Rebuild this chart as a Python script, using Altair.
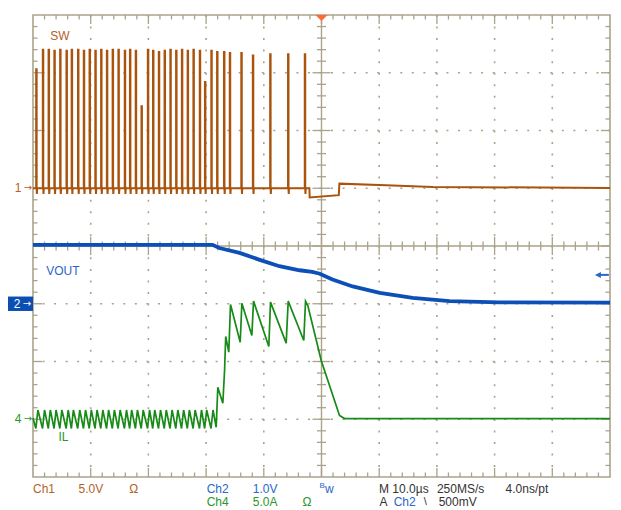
import altair as alt
import pandas as pd
import numpy as np

# ---------------- data (time in µs, 10 µs/div; vertical in divisions, centre = 0) -------------
CH1_GND, CH2_GND, CH4_GND = 1.0, -1.0, -3.0      # ground markers (div)
CH1_VDIV, CH2_VDIV, CH4_ADIV = 5.0, 1.0, 5.0     # V/div, V/div, A/div

# SW (Ch1) switching pulses: times (µs) and peak voltages (V)
sw_pulse_t = [-49.45, -48.3, -47.3, -46.3, -45.3, -44.2, -43.3, -42.2, -41.2, -40.2,
              -39.2, -38.2, -37.2, -36.2, -35.2, -34.1, -33.2, -32.2, -31.2, -30.1,
              -29.2, -28.2, -27.2, -26.2, -25.2, -24.2, -23.2, -22.2, -21.1, -20.2,
              -19.1, -18.1, -16.9, -15.9, -13.9, -11.9, -8.9, -5.8, -2.9]
sw_pulse_v = [10.3, 12.0, 12.0, 11.9, 12.0, 11.9, 12.0, 12.0, 11.9, 12.0,
              11.9, 12.0, 11.9, 12.0, 12.0, 11.9, 12.0, 11.9, 7.1, 12.0,
              11.9, 11.8, 11.9, 12.0, 11.9, 12.0, 11.9, 12.0, 11.9, 9.2,
              11.9, 11.8, 11.8, 11.7, 11.7, 11.5, 11.6, 11.6, 11.6]
sw_tail_t = [-2.1, -2.05, 3.0, 3.1, 11.2, 19.3, 50.0]
sw_tail_v = [0.0, -0.8, -0.6, 0.4, 0.26, 0.11, 0.03]

# VOUT (Ch2)
vout_t = [-50, -18.9, -17.7, -14.2, -10.7, -7.3, -3.8, -1.6, -0.3, 1.9, 5.4, 10.1, 15.8, 22.2, 30.8, 50]
vout_v = [1.02, 1.02, 0.965, 0.88, 0.76, 0.65, 0.58, 0.55, 0.52, 0.42, 0.30, 0.19, 0.10, 0.045, 0.025, 0.02]

# IL (Ch4): ripple levels before the load step, then read vertices
il_ripple_lo, il_ripple_hi = -0.8, 0.8
il_t = [-18.25, -17.97, -17.1, -16.8, -16.6, -16.07, -15.77, -14.09, -13.8, -12.07, -11.78,
        -9.13, -8.84, -6.12, -5.77, -3.07, -2.77, -2.37, -0.05, 3.12, 4.0, 50.0]
il_a = [-0.7, 2.77, 1.39, 4.22, 7.17, 5.81, 9.94, 6.67, 10.05, 7.25, 10.23,
        6.30, 10.14, 6.59, 10.23, 6.82, 10.23, 9.85, 5.09, 0.32, 0.06, 0.06]

# --------------- build traces ---------------
sw_rows = [(-50.0, 0.0)]
for t, v in zip(sw_pulse_t, sw_pulse_v):
    sw_rows += [(t, 0.0), (t, v), (t + 0.08, v), (t + 0.08, 0.0), (t + 0.12, -0.5), (t + 0.17, 0.0)]
sw_rows += list(zip(sw_tail_t, sw_tail_v))
sw = pd.DataFrame(sw_rows, columns=["t", "v"])
sw["y"] = CH1_GND + sw["v"] / CH1_VDIV
sw["i"] = range(len(sw))

vout = pd.DataFrame({"t": vout_t, "v": vout_v})
vout["y"] = CH2_GND + vout["v"] / CH2_VDIV
vout["i"] = range(len(vout))

il_rows = [(-50.0, 0.1)]
for t in sw_pulse_t:
    if t < -18.5:
        il_rows += [(t - 0.05, il_ripple_lo), (t + 0.3, il_ripple_hi)]
il_rows += list(zip(il_t, il_a))
il = pd.DataFrame(il_rows, columns=["t", "a"])
il["y"] = CH4_GND + il["a"] / CH4_ADIV
il["i"] = range(len(il))

# --------------- styling ---------------
GRID = "#aaa38a"
FONT = "Liberation Sans"
BROWN, BLUE, GREEN = "#a9530d", "#0c4fb6", "#178a17"
BROWN_T, BLUE_T, GREEN_T = "#b5621f", "#2b66c9", "#2b962b"

xs = alt.Scale(domain=[-50, 50], nice=False, zero=False)
ys = alt.Scale(domain=[-4, 4], nice=False, zero=False)


def X(f="t"):
    return alt.X(f"{f}:Q", scale=xs, axis=None)


def Y(f="y"):
    return alt.Y(f"{f}:Q", scale=ys, axis=None)


# dotted graticule
grid_v = alt.Chart(pd.DataFrame({"t": [-40, -30, -20, -10, 10, 20, 30, 40]})).mark_rule(
    color=GRID, strokeWidth=1.6, strokeDash=[2, 9.54]).encode(x=X())
grid_h = alt.Chart(pd.DataFrame({"y": [-3, -2, -1, 1, 2, 3]})).mark_rule(
    color=GRID, strokeWidth=1.6, strokeDash=[2, 9.54]).encode(y=Y())
centre_v = alt.Chart(pd.DataFrame({"t": [0]})).mark_rule(color=GRID, strokeWidth=1.4).encode(x=X())
centre_h = alt.Chart(pd.DataFrame({"y": [0]})).mark_rule(color=GRID, strokeWidth=1.4).encode(y=Y())

# tick marks on frame and centre lines
tick_rows = []
for p in np.round(np.arange(-48, 49, 2), 6):
    major = abs(p % 10) < 1e-9
    L = 0.156 if major else 0.078
    tick_rows += [(p, p, 4, 4 - L), (p, p, -4, -4 + L), (p, p, -L, L)]
for q in np.round(np.arange(-3.8, 3.81, 0.2), 6):
    major = abs(q - round(q)) < 1e-9
    L = 1.56 if major else 0.78
    tick_rows += [(-50, -50 + L, q, q), (50, 50 - L, q, q), (-L, L, q, q)]
ticks = pd.DataFrame(tick_rows, columns=["t", "t2", "y", "y2"])
tick_layer = alt.Chart(ticks).mark_rule(color=GRID, strokeWidth=1.3).encode(
    x=X(), x2="t2:Q", y=Y(), y2="y2:Q")

# traces
sw_line = alt.Chart(sw).mark_line(color=BROWN, strokeWidth=2.0, interpolate="linear").encode(
    x=X(), y=Y(), order="i:Q")
il_line = alt.Chart(il).mark_line(color=GREEN, strokeWidth=1.7).encode(x=X(), y=Y(), order="i:Q")
vout_line = alt.Chart(vout).mark_line(color=BLUE, strokeWidth=3.8).encode(x=X(), y=Y(), order="i:Q")

# in-plot labels
chan_labels = pd.DataFrame({
    "text": ["SW", "VOUT", "IL"],
    "t": [-47.0, -47.7, -45.6],
    "y": [3.63, -0.44, -3.3],
    "color": [BROWN_T, BLUE_T, GREEN_T],
})
chan_text = alt.Chart(chan_labels).mark_text(align="left", baseline="middle", font=FONT, fontSize=12).encode(
    x=X(), y=Y(), text="text:N", color=alt.Color("color:N", scale=None))

# bottom status text
status = pd.DataFrame({
    "text": ["Ch1", "5.0V", "Ω", "Ch2", "1.0V", "B", "w", "M 10.0µs", "250MS/s", "4.0ns/pt",
             "Ch4", "5.0A", "Ω", "A", "Ch2", "\\", "500mV"],
    "t": [-50.0, -42.1, -33.3, -19.9, -11.9, -0.35, 0.6, 9.97, 20.0, 31.9,
          -19.9, -11.9, -3.3, 10.05, 12.5, 17.7, 20.3],
    "y": [-4.2, -4.2, -4.2, -4.2, -4.2, -4.15, -4.2, -4.2, -4.2, -4.2,
          -4.44, -4.44, -4.44, -4.44, -4.44, -4.44, -4.44],
    "color": [BROWN_T, BROWN_T, BROWN_T, BLUE_T, BLUE_T, BLUE_T, BLUE_T, "#333333", "#333333", "#333333",
              GREEN_T, GREEN_T, GREEN_T, "#333333", BLUE_T, "#333333", "#333333"],
    "fs": [12, 12, 12, 12, 12, 8, 12, 12, 12, 12, 12, 12, 12, 12, 12, 11, 12],
})
status_text = alt.Chart(status).mark_text(align="left", baseline="middle", font=FONT).encode(
    x=X(), y=Y(), text="text:N", color=alt.Color("color:N", scale=None), size=alt.Size("fs:Q", scale=None))

# ground markers at the left edge
gnd = pd.DataFrame({"y": [CH1_GND, CH4_GND], "text": ["1", "4"], "color": [BROWN_T, GREEN_T]})
gnd_num = alt.Chart(gnd).mark_text(align="center", baseline="middle", font=FONT, fontSize=12).encode(
    x=alt.value(-15), y=Y(), text="text:N", color=alt.Color("color:N", scale=None))
gnd_arrow = alt.Chart(gnd).mark_text(align="center", baseline="middle", font="DejaVu Sans", fontSize=10).encode(
    x=alt.value(-5), y=Y(), text=alt.value("→"), color=alt.Color("color:N", scale=None))

box = pd.DataFrame({"y": [CH2_GND - 0.125], "y2": [CH2_GND + 0.125], "yc": [CH2_GND]})
ch2_box = alt.Chart(box).mark_rect(color="#0b4fb3").encode(
    x=alt.value(-25), x2=alt.value(0), y=Y(), y2="y2:Q")
ch2_num = alt.Chart(box).mark_text(align="center", baseline="middle", font=FONT, fontSize=12, color="white").encode(
    x=alt.value(-16), y=Y("yc"), text=alt.value("2"))
ch2_arrow = alt.Chart(box).mark_text(align="center", baseline="middle", font="DejaVu Sans", fontSize=10, color="white").encode(
    x=alt.value(-6), y=Y("yc"), text=alt.value("→"))

# trigger position marker and trigger level arrow (Ch2 level 500 mV)
trig_pos = alt.Chart(pd.DataFrame({"t": [0.0], "y": [3.948]})).mark_point(
    shape="M-1,-0.5L1,-0.5L0,0.5Z", filled=True, size=144, color="#ff6a33", opacity=1).encode(x=X(), y=Y())
lvl = pd.DataFrame({"t": [47.9], "t2": [49.8], "y": [CH2_GND + 0.5 / CH2_VDIV]})
trig_line = alt.Chart(lvl).mark_rule(color="#2b66c9", strokeWidth=2).encode(x=X(), x2="t2:Q", y=Y())
trig_head = alt.Chart(lvl).mark_point(
    shape="M1,-1L-1,0L1,1Z", filled=True, size=36, color="#2b66c9", opacity=1).encode(x=X(), y=Y())

chart = alt.layer(
    grid_v, grid_h, centre_v, centre_h, tick_layer,
    sw_line, il_line, vout_line,
    chan_text, status_text, gnd_num, gnd_arrow, ch2_box, ch2_num, ch2_arrow,
    trig_pos, trig_line, trig_head,
).properties(
    width=577, height=462,
    padding={"left": 25, "top": 7, "right": 3, "bottom": 36},
    autosize=alt.AutoSizeParams(type="none"),
    background="white",
).configure_view(stroke=GRID, strokeWidth=1.6)

chart.save("out.html", embed_options={"renderer": "svg", "actions": False})
